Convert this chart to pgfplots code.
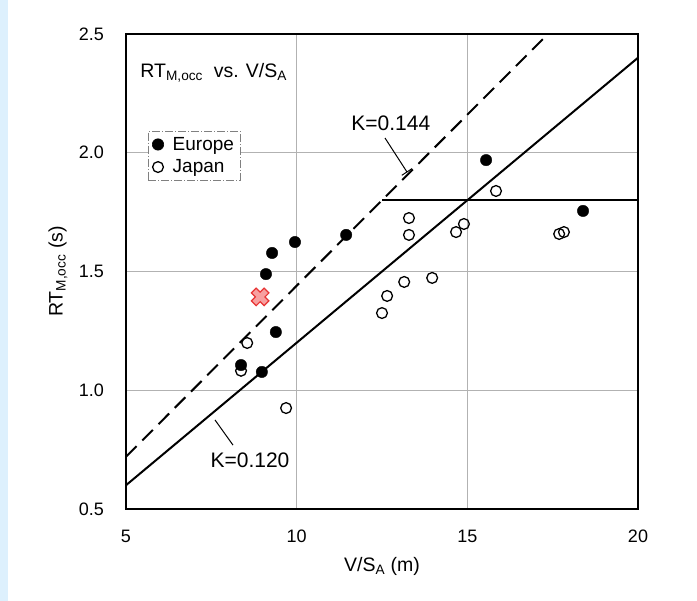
\documentclass[border=0pt]{standalone}
\usepackage{fontspec}
\setmainfont{Liberation Sans}
\usepackage{pgfplots}
\pgfplotsset{compat=1.18}
\definecolor{bgblue}{RGB}{221,240,253}
\definecolor{xfill}{RGB}{247,160,160}
\definecolor{xdraw}{RGB}{232,52,52}
\pgfdeclareplotmark{fatx}{%
  \pgftransformrotate{45}%
  \pgfpathmoveto{\pgfqpoint{0.38\pgfplotmarksize}{\pgfplotmarksize}}%
  \pgfpathlineto{\pgfqpoint{0.38\pgfplotmarksize}{0.38\pgfplotmarksize}}%
  \pgfpathlineto{\pgfqpoint{\pgfplotmarksize}{0.38\pgfplotmarksize}}%
  \pgfpathlineto{\pgfqpoint{\pgfplotmarksize}{-0.38\pgfplotmarksize}}%
  \pgfpathlineto{\pgfqpoint{0.38\pgfplotmarksize}{-0.38\pgfplotmarksize}}%
  \pgfpathlineto{\pgfqpoint{0.38\pgfplotmarksize}{-\pgfplotmarksize}}%
  \pgfpathlineto{\pgfqpoint{-0.38\pgfplotmarksize}{-\pgfplotmarksize}}%
  \pgfpathlineto{\pgfqpoint{-0.38\pgfplotmarksize}{-0.38\pgfplotmarksize}}%
  \pgfpathlineto{\pgfqpoint{-\pgfplotmarksize}{-0.38\pgfplotmarksize}}%
  \pgfpathlineto{\pgfqpoint{-\pgfplotmarksize}{0.38\pgfplotmarksize}}%
  \pgfpathlineto{\pgfqpoint{-0.38\pgfplotmarksize}{0.38\pgfplotmarksize}}%
  \pgfpathlineto{\pgfqpoint{-0.38\pgfplotmarksize}{\pgfplotmarksize}}%
  \pgfpathclose
  \pgfusepathqfillstroke}
\begin{document}
\begin{tikzpicture}[x=1pt,y=1pt]
\fill[white] (0,0) rectangle (697,601);
\fill[bgblue] (0,0) rectangle (8,601);
\begin{axis}[
  at={(126pt,92pt)}, anchor=south west,
  scale only axis, width=512pt, height=475pt,
  xmin=5, xmax=20, ymin=0.5, ymax=2.5,
  xtick={5,10,15,20}, ytick={0.5,1.0,1.5,2.0,2.5},
  major tick length=0pt,
  grid=major,
  grid style={gray!60, line width=0.6pt},
  axis line style={line width=1.5pt},
  /pgf/number format/assume math mode=true,
  tick label style={font=\fontsize{18}{20}\selectfont},
  xticklabel style={inner sep=0pt, yshift=-21pt},
  yticklabel style={inner sep=0pt, xshift=-22pt, /pgf/number format/.cd, fixed, fixed zerofill, precision=1},
  xlabel={V/S\textsubscript{A} (m)},
  ylabel={RT\textsubscript{M,occ} (s)},
  every axis x label/.style={at={(rel axis cs:0.5,-0.12)}, anchor=center, font=\fontsize{19.5}{22}\selectfont},
  every axis y label/.style={at={(rel axis cs:-0.133,0.5)}, rotate=90, anchor=center, font=\fontsize{19.5}{22}\selectfont},
  legend style={at={(rel axis cs:0.043,0.796)}, anchor=north west,
    draw=gray, dash pattern=on 8pt off 2pt on 1pt off 2pt, line width=0.6pt,
    font=\fontsize{19}{22}\selectfont, inner xsep=4pt, inner ysep=4pt, row sep=4pt, fill=white,
    /tikz/every odd column/.append style={column sep=7pt}},
  legend cell align=left,
  every mark/.append style={solid},
]
% reference lines
\addplot[forget plot, line width=2pt, black] coordinates {(5,0.6) (20,2.4)};
\addplot[forget plot, line width=2pt, black, dash pattern=on 15pt off 8pt] coordinates {(5,0.72) (20,2.88)};
\addplot[forget plot, line width=2pt, black] coordinates {(12.5,1.8) (20,1.8)};
% Europe
\addplot[only marks, mark=*, mark size=5.7pt, black] coordinates {
 (9.28,1.578) (9.95,1.624) (9.10,1.489) (9.39,1.245) (11.45,1.654)
 (8.37,1.106) (8.98,1.077) (15.55,1.969) (18.39,1.755)};
\addlegendentry{Europe}
% Japan
\addplot[only marks, mark=o, mark size=5.4pt, black, mark options={line width=1.3pt, fill=white}] coordinates {
 (8.55,1.199) (8.37,1.082) (9.69,0.925) (15.84,1.839) (13.29,1.725)
 (13.29,1.654) (14.90,1.700) (14.67,1.666) (17.69,1.658) (17.83,1.666)
 (13.97,1.473) (13.15,1.456) (12.65,1.397) (12.50,1.325)};
\addlegendentry{Japan}
% red marker
\addplot[forget plot, only marks, mark=fatx, mark size=9pt, mark options={fill=xfill, draw=xdraw, line width=1.2pt}] coordinates {(8.93,1.393)};
% annotations
\draw[line width=1pt] (axis cs:12.588,2.062) -- (axis cs:13.232,1.919);
\draw[line width=1pt] (axis cs:13.08,1.905) -- (axis cs:13.38,1.933);
\draw[line width=1pt] (axis cs:7.607,0.875) -- (axis cs:8.135,0.769);
\node[font=\fontsize{21}{24}\selectfont] at (axis cs:12.76,2.124) {K=0.144};
\node[font=\fontsize{21}{24}\selectfont] at (axis cs:8.633,0.706) {K=0.120};
\node[anchor=west, font=\fontsize{19.5}{22}\selectfont] at (axis cs:5.32,2.336) {RT\textsubscript{M,occ}\ \ vs. V/S\textsubscript{A}};
\end{axis}
\end{tikzpicture}
\end{document}
